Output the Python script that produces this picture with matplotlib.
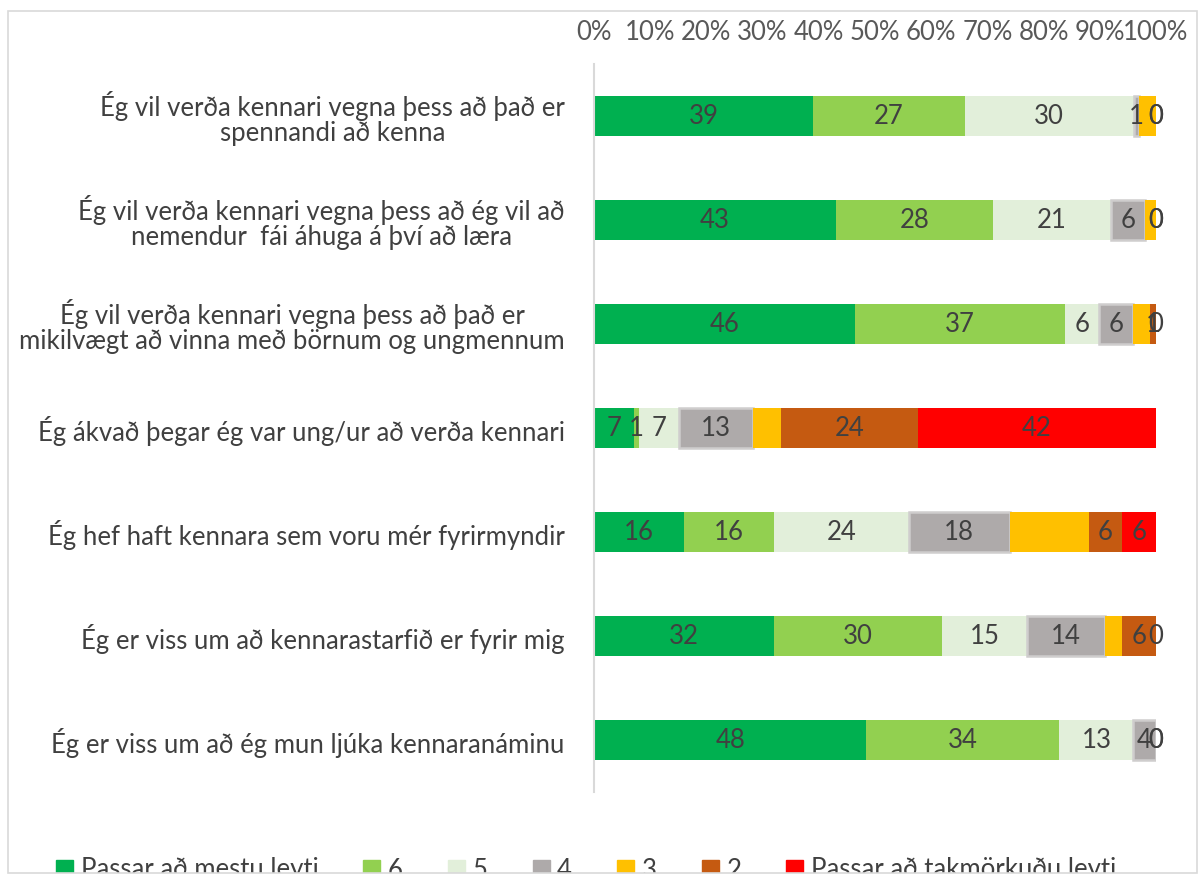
import matplotlib.pyplot as plt
from matplotlib.patches import Rectangle, Patch

plt.rcParams['font.family'] = ['Lato', 'DejaVu Sans']

# spurningar, efst til neðst
questions = [
    "Ég vil verða kennari vegna þess að það er\nspennandi að kenna",
    "Ég vil verða kennari vegna þess að ég vil að\nnemendur  fái áhuga á því að læra",
    "Ég vil verða kennari vegna þess að það er\nmikilvægt að vinna með börnum og ungmennum",
    "Ég ákvað þegar ég var ung/ur að verða kennari",
    "Ég hef haft kennara sem voru mér fyrirmyndir",
    "Ég er viss um að kennarastarfið er fyrir mig",
    "Ég er viss um að ég mun ljúka kennaranáminu",
]

series_names = ["Passar að mestu leyti", "6", "5", "4", "3", "2",
                "Passar að takmörkuðu leyti"]
colors = ["#00B050", "#92D050", "#E2EFDA", "#AEAAAA", "#FFC000", "#C55A11", "#FF0000"]

s7 = [39, 43, 46, 7, 16, 32, 48]
s6 = [27, 28, 37, 1, 16, 30, 34]
s5 = [30, 21, 6, 7, 24, 15, 13]
s4 = [1, 6, 6, 13, 18, 14, 4]
s3 = [3, 2, 3, 5, 14, 3, 0]
s2 = [0, 0, 1, 24, 6, 6, 0]
s1 = [0, 0, 0, 42, 6, 0, 0]
series = [s7, s6, s5, s4, s3, s2, s1]
show_labels = [True, True, True, True, False, True, True]

FS = 18.5
fig = plt.figure(figsize=(12.03, 8.77), dpi=100)
W, H = 1203, 877
ax = fig.add_axes([594 / W, 1 - 792 / H, 562 / W, 728 / H])

totals = [sum(s[j] for s in series) for j in range(len(questions))]
y = list(range(len(questions)))
left = [0.0] * len(questions)
for i, s in enumerate(series):
    widths = [v / t * 100 for v, t in zip(s, totals)]
    edge = "#CFCDCD" if i == 3 else "none"
    ax.barh(y, widths, left=left, height=0.39, color=colors[i],
            edgecolor=edge, linewidth=1.8 if i == 3 else 0, label=series_names[i])
    if show_labels[i]:
        for j in range(len(questions)):
            ax.text(left[j] + widths[j] / 2, y[j], str(s[j]), ha="center",
                    va="center", fontsize=FS, color="#404040")
    left = [l + w for l, w in zip(left, widths)]

ax.set_xlim(0, 100)
ax.set_ylim(len(questions) - 0.5, -0.5)
ax.xaxis.tick_top()
ax.set_xticks(range(0, 101, 10))
ax.set_xticklabels([f"{t}%" for t in range(0, 101, 10)])
ax.tick_params(axis="x", length=0, pad=14, labelsize=FS, labelcolor="#595959")
ax.set_yticks(y)
ax.set_yticklabels(questions, multialignment="center", linespacing=1.0)
ax.tick_params(axis="y", length=0, pad=21, labelsize=FS, labelcolor="#404040")
for side in ["top", "right", "bottom"]:
    ax.spines[side].set_visible(False)
ax.spines["left"].set_color("#D9D9D9")
ax.spines["left"].set_linewidth(1.5)

handles = [Patch(color=c) for c in colors]
fig.legend(handles, series_names, loc="center", ncol=7, frameon=False,
           bbox_to_anchor=(586 / W, 1 - 870 / H), fontsize=FS,
           handlelength=0.66, handleheight=0.7, handletextpad=0.3,
           columnspacing=1.75, labelcolor="#404040", borderpad=0)

# klippa neðri hluta skýringa eins og í frumriti
fig.add_artist(Rectangle((0, 0), 1, 4 / H, transform=fig.transFigure,
                         facecolor="white", edgecolor="none", zorder=20))
fig.add_artist(Rectangle((8 / W, 4 / H), 1189 / W, 862 / H,
                         transform=fig.transFigure, facecolor="none",
                         edgecolor="#D9D9D9", linewidth=1.2, zorder=21))

fig.savefig("out.png", dpi=100)
